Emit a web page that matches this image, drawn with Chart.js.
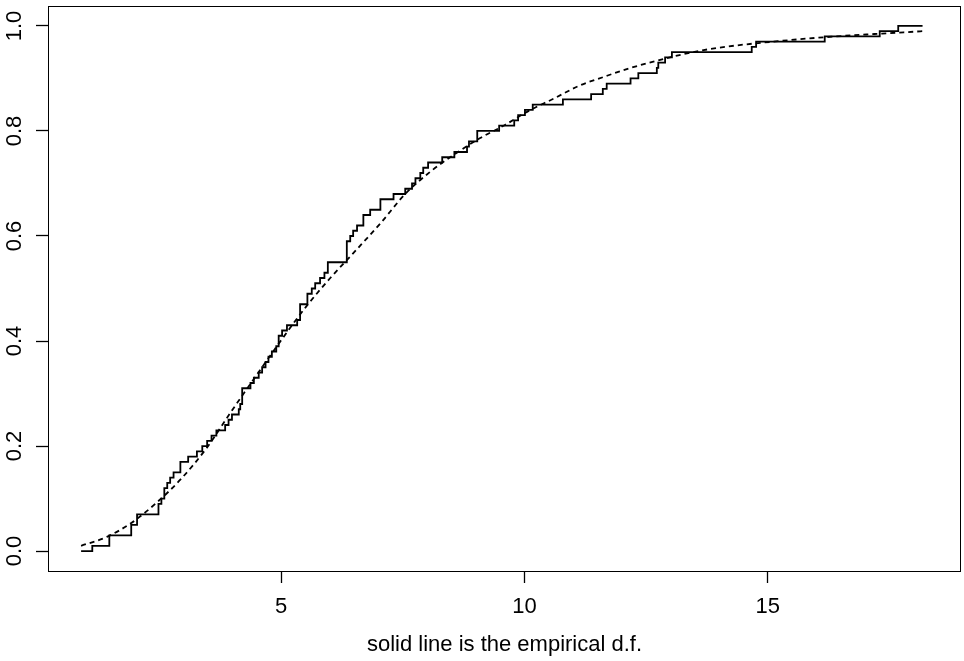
<!DOCTYPE html>
<html>
<head>
<meta charset="utf-8">
<script src="https://cdn.jsdelivr.net/npm/chart.js@4"></script>
<style>
  html, body { margin: 0; padding: 0; background: #fff; }
  canvas { display: block; }
</style>
</head>
<body>
<canvas id="chart" width="964" height="661"></canvas>
<script>
// empirical d.f.: x where each step starts, and the level from there on
const ecdfX = [
  0.89, 1.12, 1.47, 1.92, 2.04, 2.48, 2.54, 2.60, 2.66, 2.72,
  2.79, 2.93, 3.09, 3.27, 3.38, 3.48, 3.57, 3.67, 3.85, 3.92,
  3.99, 4.13, 4.16, 4.20, 4.37, 4.44, 4.54, 4.61, 4.68, 4.74,
  4.81, 4.90, 4.95, 5.02, 5.12, 5.33, 5.39, 5.54, 5.63, 5.70,
  5.80, 5.89, 5.96, 6.35, 6.42, 6.48, 6.56, 6.69, 6.83, 7.04,
  7.31, 7.55, 7.69, 7.76, 7.86, 7.92, 8.02, 8.31, 8.56, 8.82,
  8.86, 9.03, 9.48, 9.79, 9.87, 10.01, 10.17, 10.79, 11.37, 11.61,
  11.69, 12.18, 12.34, 12.72, 12.75, 12.89, 13.03, 14.67, 14.76, 16.17,
  17.30, 17.68, 18.18
];
const ecdfY = [
  0.00, 0.01, 0.03, 0.05, 0.07, 0.09, 0.10, 0.12, 0.13, 0.14,
  0.15, 0.17, 0.18, 0.19, 0.20, 0.21, 0.22, 0.23, 0.24, 0.25,
  0.26, 0.27, 0.28, 0.31, 0.32, 0.33, 0.34, 0.35, 0.36, 0.37,
  0.38, 0.39, 0.41, 0.42, 0.43, 0.44, 0.47, 0.49, 0.50, 0.51,
  0.52, 0.53, 0.55, 0.59, 0.60, 0.61, 0.62, 0.64, 0.65, 0.67,
  0.68, 0.69, 0.70, 0.71, 0.72, 0.73, 0.74, 0.75, 0.76, 0.77,
  0.78, 0.80, 0.81, 0.82, 0.83, 0.84, 0.85, 0.86, 0.87, 0.88,
  0.89, 0.90, 0.91, 0.92, 0.93, 0.94, 0.95, 0.96, 0.97, 0.98,
  0.99, 1.00, 1.00
];

// fitted d.f. (dashed)
const fitX = [
  0.89, 1.42, 1.93, 2.44, 2.95, 3.46, 3.97, 4.48, 4.99, 5.51,
  6.01, 6.53, 7.04, 7.55, 8.06, 8.57, 9.08, 9.59, 10.10, 10.61,
  11.12, 11.63, 12.14, 12.65, 13.16, 13.68, 14.19, 15.21, 16.23, 17.25,
  18.18
];
const fitY = [
  0.010, 0.027, 0.054, 0.092, 0.138, 0.195, 0.265, 0.333, 0.400, 0.465,
  0.520, 0.572, 0.624, 0.680, 0.722, 0.756, 0.786, 0.811, 0.839, 0.862,
  0.886, 0.903, 0.919, 0.932, 0.944, 0.954, 0.961, 0.971, 0.979, 0.985,
  0.990
];

const xTicks = [5, 10, 15];
const yTicks = [0, 0.2, 0.4, 0.6, 0.8, 1.0];
const xTitle = "solid line is the empirical d.f.";

const FONT = "'Liberation Sans', Arial, Helvetica, sans-serif";
const INK = "#000";

const toPoints = (xs, ys) => xs.map((x, i) => ({ x, y: ys[i] }));

// box round the plot region, as in base graphics
const plotBox = {
  id: "plotBox",
  afterDraw(chart) {
    const { ctx, chartArea: a } = chart;
    ctx.save();
    ctx.strokeStyle = INK;
    ctx.lineWidth = 1;
    ctx.strokeRect(a.left + 0.5, a.top + 0.5, a.right - a.left - 1, a.bottom - a.top);
    ctx.restore();
  },
};

// keep the axes from reserving room for overhanging labels
const noOverhang = (s) => {
  s.paddingTop = 0;
  s.paddingBottom = 0;
  s.paddingLeft = 0;
  s.paddingRight = 0;
};

new Chart(document.getElementById("chart"), {
  type: "scatter",
  data: {
    datasets: [
      {
        label: "empirical",
        data: toPoints(ecdfX, ecdfY),
        showLine: true,
        stepped: true,
        borderColor: INK,
        borderWidth: 1.8,
        pointRadius: 0,
      },
      {
        label: "fitted",
        data: toPoints(fitX, fitY),
        showLine: true,
        borderColor: INK,
        borderWidth: 1.8,
        borderDash: [5, 4],
        cubicInterpolationMode: "monotone",
        pointRadius: 0,
      },
    ],
  },
  options: {
    responsive: false,
    animation: false,
    layout: { padding: { top: 6, right: 3, left: 0, bottom: 0 } },
    plugins: { legend: { display: false }, tooltip: { enabled: false } },
    scales: {
      x: {
        type: "linear",
        min: 0.21,
        max: 18.97,
        afterBuildTicks: (s) => { s.ticks = xTicks.map((v) => ({ value: v })); },
        afterFit: (s) => { s.height = 90; noOverhang(s); },
        border: { display: false },
        grid: { drawOnChartArea: false, drawTicks: true, tickLength: 12, tickColor: INK, tickWidth: 1.3 },
        ticks: { color: INK, padding: 11, maxRotation: 0, font: { family: FONT, size: 22 } },
        title: {
          display: true,
          text: xTitle,
          color: INK,
          font: { family: FONT, size: 22 },
          padding: { top: 0, bottom: 3 },
        },
      },
      y: {
        type: "linear",
        min: -0.038,
        max: 1.038,
        afterBuildTicks: (s) => { s.ticks = yTicks.map((v) => ({ value: v })); },
        afterFit: (s) => { s.width = 48; noOverhang(s); },
        border: { display: false },
        grid: { drawOnChartArea: false, drawTicks: true, tickLength: 12, tickColor: INK, tickWidth: 1.3 },
        ticks: {
          color: INK,
          padding: 6,
          minRotation: 90,
          maxRotation: 90,
          crossAlign: "center",
          font: { family: FONT, size: 22 },
          callback: (v) => Number(v).toFixed(1),
        },
      },
    },
  },
  plugins: [plotBox],
});
</script>
</body>
</html>
